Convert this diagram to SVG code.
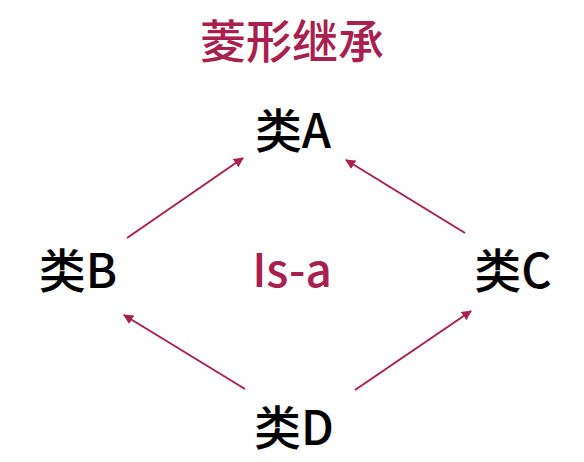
<svg xmlns="http://www.w3.org/2000/svg" width="584" height="462" viewBox="0 0 584 462">
<style>
.n{font-family:"Noto Sans CJK SC","Noto Sans",sans-serif;font-size:47px;fill:#000;text-anchor:middle;font-weight:500}
.t{font-family:"Noto Sans CJK SC","Noto Sans",sans-serif;font-size:46px;fill:#a8204e;text-anchor:middle;font-weight:500}
.e{stroke:#a8204e;stroke-width:2;fill:none;marker-end:url(#a)}
</style>
<defs>
<marker id="a" viewBox="0 0 10 10" refX="9" refY="5" markerWidth="5" markerHeight="5" orient="auto" markerUnits="strokeWidth">
<path d="M0,0 L10,5 L0,10 z" fill="#a8204e"/>
</marker>
</defs>
<g id="title"><text class="t" x="292" y="58">菱形继承</text></g>
<g id="connectors">
<line class="e" x1="127" y1="238" x2="243" y2="158"/>
<line class="e" x1="465" y1="233" x2="346" y2="160"/>
<line class="e" x1="245" y1="389" x2="124" y2="315"/>
<line class="e" x1="355" y1="390" x2="471" y2="311"/>
</g>
<g id="A"><text class="n" x="293" y="148">类A</text></g>
<g id="B"><text class="n" x="78" y="288">类B</text></g>
<g id="C"><text class="n" x="513" y="288">类C</text></g>
<g id="D"><text class="n" x="294" y="445">类D</text></g>
<g id="isa"><text class="t" x="292" y="287">Is-a</text></g>
</svg>
